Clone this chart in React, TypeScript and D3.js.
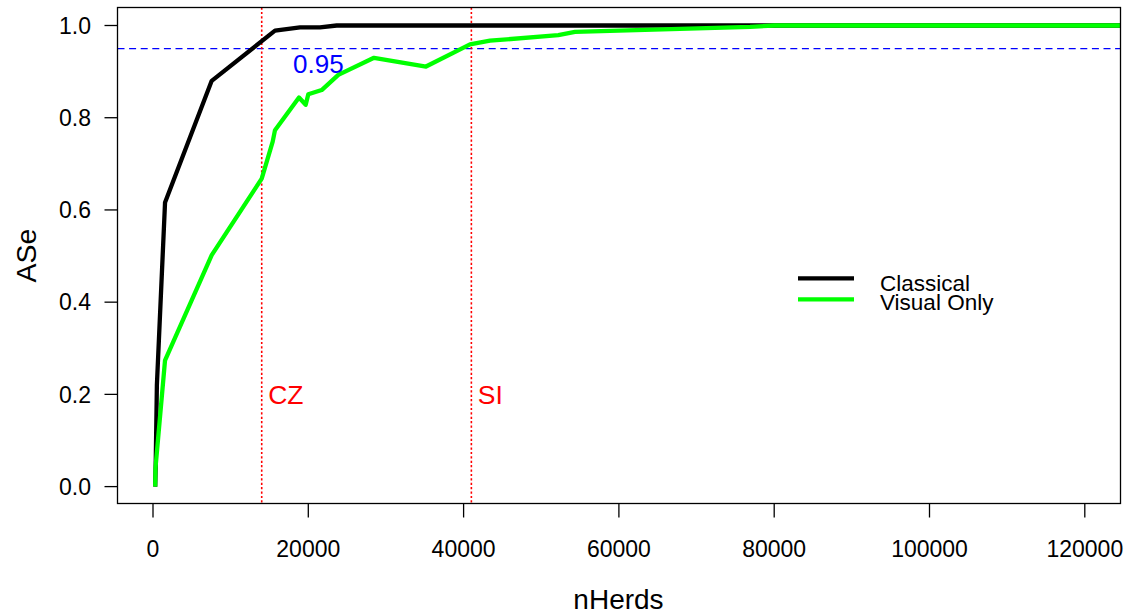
import React from "react";
import * as d3 from "d3";

const classicalX = [280, 350, 500, 1550, 7560, 15710, 18930, 21510, 23660, 125500];
const classicalY = [0, 0.05, 0.22, 0.616, 0.88, 0.989, 0.996, 0.996, 1.0, 1.0];

const visualX = [280, 320, 1550, 7560, 14000, 15415, 15710, 18800, 19665, 20000, 21726, 23864, 28461, 35158, 40824, 43400, 52196, 54346, 76884, 80000, 125500];
const visualY = [0, 0.04, 0.274, 0.502, 0.668, 0.748, 0.773, 0.844, 0.828, 0.851, 0.86, 0.893, 0.93, 0.911, 0.959, 0.967, 0.979, 0.986, 0.997, 1.0, 1.0];

const xTicks = [0, 20000, 40000, 60000, 80000, 100000, 120000];
const yTicks = [0, 0.2, 0.4, 0.6, 0.8, 1.0];
const vLines = [
  { x: 14000, label: "CZ" },
  { x: 41000, label: "SI" },
];
const threshold = 0.95;
const legendItems = [
  { label: "Classical", color: "#000000" },
  { label: "Visual Only", color: "#00FF00" },
];

const W = 1126;
const H = 615;
const left = 117.5, right = 1120.5, top = 7.5, bottom = 503.5;

export default function App() {
  const x = d3.scaleLinear().domain([0, 120000]).range([153, 1084.8]);
  const y = d3.scaleLinear().domain([0, 1]).range([486.6, 25.5]);
  const line = d3.line<[number, number]>().x((d) => x(d[0])).y((d) => y(d[1]));
  const cData: [number, number][] = classicalX.map((v, i) => [v, classicalY[i]]);
  const vData: [number, number][] = visualX.map((v, i) => [v, visualY[i]]);
  const font = "Liberation Sans, Arial, Helvetica, sans-serif";

  return (
    <svg width={W} height={H} style={{ position: "absolute", left: 0, top: 0, background: "#fff" }} fontFamily={font}>
      <defs>
        <clipPath id="plotclip">
          <rect x={left} y={top} width={right - left} height={bottom - top} />
        </clipPath>
      </defs>
      <rect x={0} y={0} width={W} height={H} fill="#fff" />
      <g clipPath="url(#plotclip)">
        <line x1={left} x2={right} y1={y(threshold)} y2={y(threshold)} stroke="#0000FF" strokeWidth={1.2} strokeDasharray="7,4.6" />
        {vLines.map((v) => (
          <line key={v.label} x1={x(v.x)} x2={x(v.x)} y1={top} y2={bottom} stroke="#FF0000" strokeWidth={1.6} strokeDasharray="2.2,2.2" />
        ))}
        <path d={line(cData) || ""} fill="none" stroke="#000" strokeWidth={4.3} strokeLinejoin="round" />
        <path d={line(vData) || ""} fill="none" stroke="#00FF00" strokeWidth={4.3} strokeLinejoin="round" />
      </g>
      {vLines.map((v) => (
        <text key={v.label + "t"} x={x(v.x) + 6.5} y={y(0.2)} dy="0.36em" fontSize={26.5} fill="#FF0000">
          {v.label}
        </text>
      ))}
      <text x={x(21300)} y={y(threshold) + 24.5} textAnchor="middle" fontSize={26} fill="#0000FF">
        0.95
      </text>
      <rect x={left} y={top} width={right - left} height={bottom - top} fill="none" stroke="#000" strokeWidth={1.3} />
      {xTicks.map((t) => (
        <g key={"x" + t}>
          <line x1={x(t)} x2={x(t)} y1={bottom} y2={bottom + 14} stroke="#000" strokeWidth={1.3} />
          <text x={x(t)} y={557} textAnchor="middle" fontSize={23}>
            {t}
          </text>
        </g>
      ))}
      {yTicks.map((t) => (
        <g key={"y" + t}>
          <line x1={left - 13} x2={left} y1={y(t)} y2={y(t)} stroke="#000" strokeWidth={1.3} />
          <text x={91} y={y(t)} dy="0.36em" textAnchor="end" fontSize={23}>
            {t.toFixed(1)}
          </text>
        </g>
      ))}
      <text x={618.5} y={609} textAnchor="middle" fontSize={28}>
        nHerds
      </text>
      <text transform={`translate(36,255.5) rotate(-90)`} textAnchor="middle" fontSize={28.5}>
        ASe
      </text>
      {legendItems.map((l, i) => (
        <g key={l.label}>
          <line x1={798} x2={854} y1={278.3 + i * 21} y2={278.3 + i * 21} stroke={l.color} strokeWidth={4.3} />
          <text x={880} y={291 + i * 19} fontSize={22.5}>
            {l.label}
          </text>
        </g>
      ))}
    </svg>
  );
}
